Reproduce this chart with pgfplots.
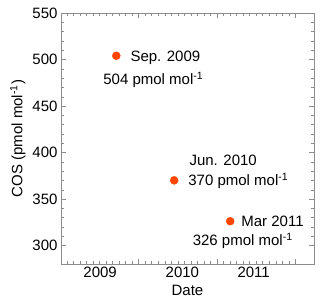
\documentclass[border=0pt]{standalone}
\usepackage{pgfplots}
\pgfplotsset{compat=1.18}
\usepackage{fontspec}
\setmainfont{Liberation Sans}
\definecolor{dotc}{RGB}{255,69,0}
\begin{document}
\begin{tikzpicture}
\useasboundingbox (-61bp,-44bp) rectangle (259bp,264bp);
\begin{axis}[
  scale only axis,
  width=253bp, height=251bp,
  xmin=2009.01, xmax=2012.24,
  ymin=280, ymax=550,
  font=\fontsize{15bp}{18bp}\selectfont,
  /pgf/number format/assume math mode=true,
  /pgf/number format/1000 sep={},
  axis line style={draw=black!45},
  tick style={draw=black!45},
  tick align=inside,
  major tick length=5.5bp,
  minor tick length=3bp,
  xtick={2009,2010,2011,2012},
  xticklabels={},
  minor x tick num=11,
  extra x ticks={2009.51,2010.56,2011.47},
  extra x tick labels={2009,2010,2011},
  extra x tick style={major tick length=0pt, tick style={draw=none}},
  ytick={300,350,400,450,500,550},
  minor y tick num=4,
  xlabel={Date},
  ylabel={COS (pmol mol\textsuperscript{-1})},
  clip=false,
]
\addplot[only marks, mark=*, mark size=4bp, color=dotc, mark options={draw=dotc, fill=dotc}]
  coordinates {(2009.716,504) (2010.455,370) (2011.17,326)};
\node[anchor=base west, inner sep=0pt, xshift=14bp, yshift=-5.5bp] at (axis cs:2009.716,504) {Sep. 2009};
\node[anchor=base, inner sep=0pt, xshift=37bp, yshift=-28.5bp] at (axis cs:2009.716,504) {504 pmol mol\textsuperscript{-1}};
\node[anchor=base, inner sep=0pt, xshift=49bp, yshift=14.5bp] at (axis cs:2010.455,370) {Jun. 2010};
\node[anchor=base west, inner sep=0pt, xshift=14bp, yshift=-5.5bp] at (axis cs:2010.455,370) {370 pmol mol\textsuperscript{-1}};
\node[anchor=base west, inner sep=0pt, xshift=11bp, yshift=-5.5bp] at (axis cs:2011.17,326) {Mar 2011};
\node[anchor=base, inner sep=0pt, xshift=12.5bp, yshift=-24.5bp] at (axis cs:2011.17,326) {326 pmol mol\textsuperscript{-1}};
\end{axis}
\end{tikzpicture}
\end{document}
